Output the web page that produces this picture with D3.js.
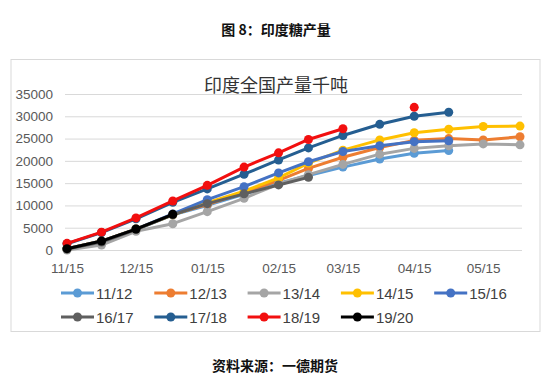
<!DOCTYPE html>
<html>
<head>
<meta charset="utf-8">
<script src="https://cdn.jsdelivr.net/npm/d3@7/dist/d3.min.js"></script>
<style>
  body { margin: 0; background: #fff; }
  text { font-family: "Liberation Sans", "Noto Sans CJK SC", sans-serif; }
</style>
</head>
<body>
<div id="container"></div>
<script>
let w = 550;
let h = 377;

// dates of the reports (15th and month end)
let dates = ["2000-11-15","2000-11-30","2000-12-15","2000-12-31","2001-01-15","2001-01-31",
             "2001-02-15","2001-02-28","2001-03-15","2001-03-31","2001-04-15","2001-04-30",
             "2001-05-15","2001-05-31"];
let tickDates = ["2000-11-15","2000-12-15","2001-01-15","2001-02-15","2001-03-15","2001-04-15","2001-05-15"];
let yTicks = [0, 5000, 10000, 15000, 20000, 25000, 30000, 35000];

// one array per season, thousand tonnes (null = no report)
let s1112 = [300, 1900, 4600, 7900, 10000, 12500, 15000, 16700, 18600, 20400, 21700, 22300, null, null];
let s1213 = [300, 2000, 4700, 8000, 10200, 12900, 15600, 18300, 20800, 23000, 24600, 25000, 24700, 25400];
let s1314 = [0, 1100, 4200, 5900, 8600, 11600, 14800, 16900, 19200, 21500, 22800, 23400, 23800, 23600];
let s1415 = [300, 2000, 4700, 7900, 10600, 13200, 16200, 19500, 22400, 24700, 26300, 27100, 27700, 27800];
let s1516 = [300, 2000, 4700, 8100, 11300, 14200, 17300, 19800, 22100, 23400, 24300, 24500, null, null];
let s1617 = [200, 1800, 4600, 7900, 10400, 12600, 14600, 16300, null, null, null, null, null, null];
let s1718 = [1400, 3900, 7000, 10700, 13700, 17000, 20200, 22900, 25700, 28200, 30000, 30900, null, null];
let s1819 = [1500, 4000, 7200, 11000, 14500, 18600, 21800, 24800, 27200, null, 32000, null, null, null];
let s1920 = [300, 2000, 4700, 8000, null, null, null, null, null, null, null, null, null, null];

let seasons = ["11/12","12/13","13/14","14/15","15/16","16/17","17/18","18/19","19/20"];
let seriesValues = [s1112, s1213, s1314, s1415, s1516, s1617, s1718, s1819, s1920];
let colors = ["#5B9BD5","#ED7D31","#A5A5A5","#FFC000","#4472C4","#5F5F5F","#255E91","#F20F0F","#000000"];

let parse = d3.timeParse("%Y-%m-%d");

let viz = d3.select("#container")
  .append("svg")
    .attr("width", w)
    .attr("height", h)
    .style("background-color", "#ffffff");

// page title
viz.append("text")
  .text("图 8：印度糖产量")
  .attr("x", 276).attr("y", 35)
  .attr("text-anchor", "middle")
  .style("font-family", "'Noto Sans CJK SC'")
  .style("font-weight", "bold")
  .style("font-size", "14px")
  .attr("fill", "#111");

// chart frame
viz.append("rect")
  .attr("x", 11).attr("y", 59.5)
  .attr("width", 529).attr("height", 272)
  .attr("fill", "#fff")
  .attr("stroke", "#d9d9d9");

// chart title
viz.append("text")
  .text("印度全国产量千吨")
  .attr("x", 276).attr("y", 92)
  .attr("text-anchor", "middle")
  .style("font-family", "'Noto Sans CJK SC'")
  .style("font-size", "18px")
  .attr("fill", "#333");

let xScale = d3.scaleTime()
  .domain([parse(dates[0]), parse(dates[dates.length-1])])
  .range([67, 520]);
let yScale = d3.scaleLinear().domain([0, 35000]).range([250, 94]);

// gridlines
let yAxis = d3.axisLeft(yScale)
  .tickValues(yTicks)
  .tickSize(-457)
  .tickFormat(d => d);
let yAxisGroup = viz.append("g").attr("class", "yaxis")
  .attr("transform", "translate(65,0)")
  .call(yAxis);
yAxisGroup.select(".domain").remove();
yAxisGroup.selectAll("line").attr("stroke", "#d9d9d9");
yAxisGroup.selectAll("text")
  .attr("x", -12)
  .attr("fill", "#595959")
  .style("font-size", "13.5px");

let xAxis = d3.axisBottom(xScale)
  .tickValues(tickDates.map(parse))
  .tickSize(0)
  .tickFormat(d3.timeFormat("%m/%d"));
let xAxisGroup = viz.append("g").attr("class", "xaxis")
  .attr("transform", "translate(0,250)")
  .call(xAxis);
xAxisGroup.select(".domain").attr("stroke", "#d9d9d9");
xAxisGroup.selectAll("text")
  .attr("dy", "1.45em")
  .attr("fill", "#595959")
  .style("font-size", "13.5px");

// series
let line = d3.line()
  .defined(d => d.v != null)
  .x(d => xScale(d.date))
  .y(d => yScale(d.v));

seriesValues.forEach(function(vals, i){
  let pts = vals.map((v, j) => ({date: parse(dates[j]), v: v}));
  let g = viz.append("g").attr("class", "series");
  g.append("path")
    .datum(pts)
    .attr("d", line)
    .attr("fill", "none")
    .attr("stroke", colors[i])
    .attr("stroke-width", 3)
    .attr("stroke-linejoin", "round");
  g.selectAll("circle")
    .data(pts.filter(d => d.v != null))
    .enter()
    .append("circle")
      .attr("cx", d => xScale(d.date))
      .attr("cy", d => yScale(d.v))
      .attr("r", 4.5)
      .attr("fill", colors[i]);
});

// legend
let legend = viz.append("g").attr("class", "legend");
seasons.forEach(function(s, i){
  let col = i % 5;
  let row = Math.floor(i / 5);
  let item = legend.append("g")
    .attr("transform", "translate(" + (61 + col*93.3) + "," + (293 + row*24) + ")");
  item.append("line")
    .attr("x1", 0).attr("x2", 33)
    .attr("stroke", colors[i])
    .attr("stroke-width", 3);
  item.append("circle")
    .attr("cx", 16.5).attr("r", 4.5)
    .attr("fill", colors[i]);
  item.append("text")
    .text(s)
    .attr("x", 35).attr("y", 5.5)
    .attr("fill", "#404040")
    .style("font-size", "15px");
});

// source
viz.append("text")
  .text("资料来源：一德期货")
  .attr("x", 275).attr("y", 371)
  .attr("text-anchor", "middle")
  .style("font-family", "'Noto Sans CJK SC'")
  .style("font-weight", "bold")
  .style("font-size", "14px")
  .attr("fill", "#111");
</script>
</body>
</html>
